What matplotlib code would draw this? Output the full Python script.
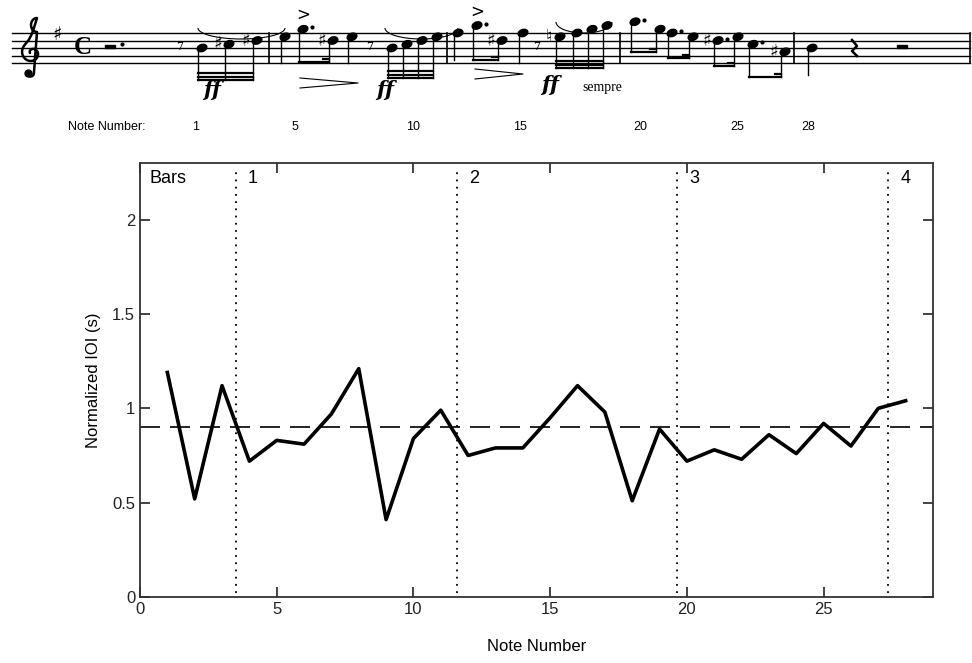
"""IOI plot with score"""

import numpy as np
import matplotlib.pyplot as plt
from matplotlib.patches import Ellipse, Arc

plt.rcParams["font.family"] = ["Liberation Sans", "DejaVu Sans"]

# データ
note_number = np.arange(1, 29)
ioi = [1.19, 0.52, 1.12, 0.72, 0.83, 0.81, 0.97, 1.21, 0.41, 0.84,
       0.99, 0.75, 0.79, 0.79, 0.95, 1.12, 0.98, 0.51, 0.89, 0.72,
       0.78, 0.73, 0.86, 0.76, 0.92, 0.80, 1.00, 1.04]
mean_ioi = 0.9
bar_lines = [3.5, 11.58, 19.65, 27.35]
bar_labels = ["1", "2", "3", "4"]

# 楽譜 (x位置, 五線の下線からの段数)
note_x = [202, 229, 257, 285, 303, 333, 352, 392, 407, 422, 437,
          458, 477, 502, 523, 560, 577, 592, 607,
          635, 660, 672, 693, 718, 738, 753, 785, 812]
note_step = [4, 5, 6, 7, 9, 6, 7, 4, 5, 6, 7,
             8, 10, 6, 8, 7, 8, 9, 10,
             11, 9, 8, 7, 6, 7, 5, 3, 4]
accidentals = {2: "♯", 3: "♯", 6: "♯", 14: "♯", 16: "♮", 24: "♯", 27: "♯"}
dotted = [5, 13, 20, 22, 24, 26]
accents = [5, 13]
# (ノート番号, 符尾の終点y, 連桁数)
groups = [([1, 2, 3], 80, 3), ([4], 63, 0), ([5, 6], 62, 2), ([7], 63, 0),
          ([8, 9, 10, 11], 78, 3), ([12], 60, 0), ([13, 14], 60, 2), ([15], 63, 0),
          ([16, 17, 18, 19], 68, 3), ([20, 21], 52, 2), ([22, 23], 58, 2),
          ([24, 25], 66, 2), ([26, 27], 77, 2), ([28], 75, 0)]
barline_x = [269, 447, 620, 794, 970]
label_notes = ["1", "5", "10", "15", "20", "25", "28"]
label_x = [196, 295, 413, 520, 640, 737, 808]

fig = plt.figure(figsize=(9.72, 6.63), dpi=100)

# 楽譜部分 (ピクセル座標)
sc = fig.add_axes([0, 1 - 150 / 663, 1, 150 / 663])
sc.set_xlim(0, 972)
sc.set_ylim(150, 0)
sc.axis("off")

bottom, gap = 63.0, 7.5


def step_y(s):
    return bottom - s * gap / 2


for i in range(5):
    sc.plot([12, 970], [bottom - i * gap] * 2, color="black", lw=1.0)
for bx in barline_x:
    sc.plot([bx, bx], [bottom - 4 * gap, bottom], color="black", lw=1.2)

# ト音記号 (フォントに無いので線で描く)
th = np.linspace(0, 2.3 * np.pi, 80)
r = 2.0 + th * 1.25
cx, cy = 32, 53
sx = cx + r * np.cos(th + np.pi)
sy = cy + r * np.sin(th + np.pi)
up_x = np.linspace(sx[-1], 37, 20)
up_y = np.linspace(sy[-1], 18, 20) + 4 * np.sin(np.linspace(0, np.pi, 20))
loop_t = np.linspace(0, np.pi, 20)
lp_x = 37 - 6 * np.sin(loop_t)
lp_y = 18 + 7 * (1 - np.cos(loop_t))
dn_x = np.linspace(lp_x[-1], 34, 20)
dn_y = np.linspace(lp_y[-1], 73, 20)
hk_t = np.linspace(0, np.pi, 12)
hk_x = 30.5 + 3.5 * np.cos(hk_t)
hk_y = 73 + 3.5 * np.sin(hk_t)
clef_x = np.concatenate([sx, up_x, lp_x, dn_x, hk_x])
clef_y = np.concatenate([sy, up_y, lp_y, dn_y, hk_y])
sc.plot(clef_x, clef_y, color="black", lw=1.8, solid_capstyle="round")
sc.plot(28, 73, marker="o", ms=5, color="black")

sc.text(57, 34, "♯", fontsize=14, ha="center", va="center", family="DejaVu Sans")
sc.text(83, 48, "C", fontsize=18, ha="center", va="center", family="Liberation Serif",
        fontweight="bold")
sc.add_patch(plt.Rectangle((105, 44.5), 10, 3.5, color="black"))
sc.plot(122, 44, marker="o", ms=2, color="black")
# 休符
for rx in [180, 370, 537]:
    sc.text(rx, 47, "7", fontsize=8, ha="center", va="center", family="DejaVu Serif")
sc.plot([852, 857, 852, 857], [40, 46, 51, 56], color="black", lw=1.8)
sc.add_patch(plt.Rectangle((897, 44.5), 10, 3.5, color="black"))

for n, (x, s) in enumerate(zip(note_x, note_step), start=1):
    y = step_y(s)
    sc.add_patch(Ellipse((x, y), 10, 7, angle=-20, color="black"))
    if n in accidentals:
        sc.text(x - 11, y, accidentals[n], fontsize=13, ha="center", va="center",
                family="DejaVu Sans")
    if n in dotted:
        sc.plot(x + 9, y - 2, marker="o", ms=2, color="black")
    if n in accents:
        sc.text(x, y - 14, ">", fontsize=12, ha="center", va="center",
                family="DejaVu Sans")

for notes, yend, nbeam in groups:
    xs = [note_x[k - 1] - 4.5 for k in notes]
    for k, x in zip(notes, xs):
        sc.plot([x, x], [step_y(note_step[k - 1]), yend], color="black", lw=1.0)
    if len(notes) > 1:
        for b in range(nbeam):
            yb = yend - 3.5 * b
            if b > 0 and len(notes) == 2:
                sc.plot([xs[-1] - 6, xs[-1]], [yb, yb], color="black", lw=1.6)
            else:
                sc.plot([xs[0], xs[-1]], [yb, yb], color="black", lw=1.6)

# スラー
for x0, x1, top in [(198, 285, 18), (385, 458, 18), (556, 612, 12)]:
    sc.add_patch(Arc(((x0 + x1) / 2, top + 10), x1 - x0, 22, theta1=0, theta2=180,
                     color="black", lw=0.8))

# 強弱記号
for fx, fy in [(212, 90), (385, 90), (550, 85)]:
    sc.text(fx, fy, "ff", fontsize=15, ha="center", va="center",
            family="DejaVu Serif", style="italic", fontweight="bold")
sc.text(602, 87, "sempre", fontsize=10, ha="center", va="center",
        family="Liberation Serif")
for x0, x1, yc in [(300, 358, 83), (475, 523, 74)]:
    sc.plot([x0, x1, x0], [yc - 5, yc, yc + 5], color="black", lw=0.8)

sc.text(68, 127, "Note Number:", fontsize=9, ha="left", va="center")
for t, x in zip(label_notes, label_x):
    sc.text(x, 127, t, fontsize=9, ha="center", va="center")

# グラフ
ax = fig.add_axes([140 / 972, 1 - 597 / 663, (933 - 140) / 972, (597 - 163) / 663])
ax.plot(note_number, ioi, color="black", lw=2.6)
ax.axhline(mean_ioi, color="black", lw=1.2, dashes=(12, 6))
for bl, lab in zip(bar_lines, bar_labels):
    ax.vlines(bl, 0.02, 2.27, color="black", lw=1.3, linestyles=(0, (1, 3)))
    ax.text(bl + 0.45, 2.22, lab, fontsize=13, ha="left", va="center")
ax.text(0.35, 2.22, "Bars", fontsize=13, ha="left", va="center")

ax.set_xlim(0, 29)
ax.set_ylim(0, 2.3)
ax.set_xticks([0, 5, 10, 15, 20, 25])
ax.set_yticks([0, 0.5, 1, 1.5, 2])
ax.set_yticklabels(["0", "0.5", "1", "1.5", "2"])
ax.tick_params(direction="in", length=7, width=1.2, top=True, right=True,
               labelsize=12, colors="#222222")
for sp in ax.spines.values():
    sp.set_linewidth(1.3)
    sp.set_color("#333333")
ax.set_xlabel("Note Number", fontsize=12, labelpad=16)
ax.set_ylabel("Normalized IOI (s)", fontsize=12, labelpad=8)

fig.savefig("out.png", dpi=100)
